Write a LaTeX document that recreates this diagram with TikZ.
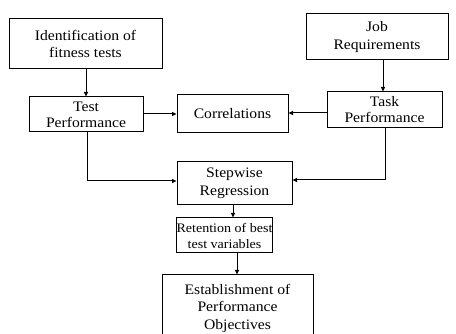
\documentclass[tikz,border=0pt]{standalone}
\usepackage{fontspec}
\setmainfont{Liberation Serif}[FakeStretch=1.08]
\usetikzlibrary{arrows.meta}
\begin{document}
\begin{tikzpicture}[x=1pt,y=-1pt,
  box/.style={draw, line width=1pt, align=center, inner sep=0pt,
    font=\fontsize{14.5}{17.5}\selectfont},
  arr/.style={line width=1pt, -{Triangle[length=4.5pt,width=4pt]}},
  ln/.style={line width=1pt}]
\useasboundingbox (0,0) rectangle (456,334);
\node[box, minimum width=153pt, minimum height=50pt] (ident) at (85.5,44) {Identification of\\fitness tests};
\node[box, minimum width=114pt, minimum height=35pt, font=\fontsize{14.5}{16}\selectfont] (test) at (86,114.5) {Test\\Performance};
\node[box, minimum width=111pt, minimum height=38pt] (corr) at (232.5,114) {Correlations};
\node[box, minimum width=142pt, minimum height=46pt] (job) at (377,37) {Job\\Requirements};
\node[box, minimum width=115pt, minimum height=36pt, font=\fontsize{14.5}{16}\selectfont] (task) at (384.5,110) {Task\\Performance};
\node[box, minimum width=115pt, minimum height=43pt] (step) at (234.5,183.5) {Stepwise\\Regression};
\node[box, minimum width=93pt, minimum height=35pt, font=\fontsize{13}{16}\selectfont] (ret) at (224.5,235.5) {Retention of best\\test variables};
\node[box, minimum width=151pt, minimum height=66pt] (est) at (237.5,308) {Establishment of\\Performance\\Objectives};
\draw[arr] (ident.south -| 86,0) -- (test.north -| 86,0);
\draw[arr] (job.south -| 383,0) -- (task.north -| 383,0);
\draw[arr] (test.east |- 0,114) -- (corr.west |- 0,114);
\draw[arr] (task.west |- 0,113) -- (corr.east |- 0,113);
\coordinate (lb) at (87,181);
\coordinate (rb) at (385,180);
\draw[arr] (test.south -| lb) -- (lb) -- (step.west |- lb);
\draw[arr] (task.south -| rb) -- (rb) -- (step.east |- rb);
\draw[arr] (step.south -| 233,0) -- (ret.north -| 233,0);
\draw[arr] (ret.south -| 237,0) -- (est.north -| 237,0);
\end{tikzpicture}
\end{document}
